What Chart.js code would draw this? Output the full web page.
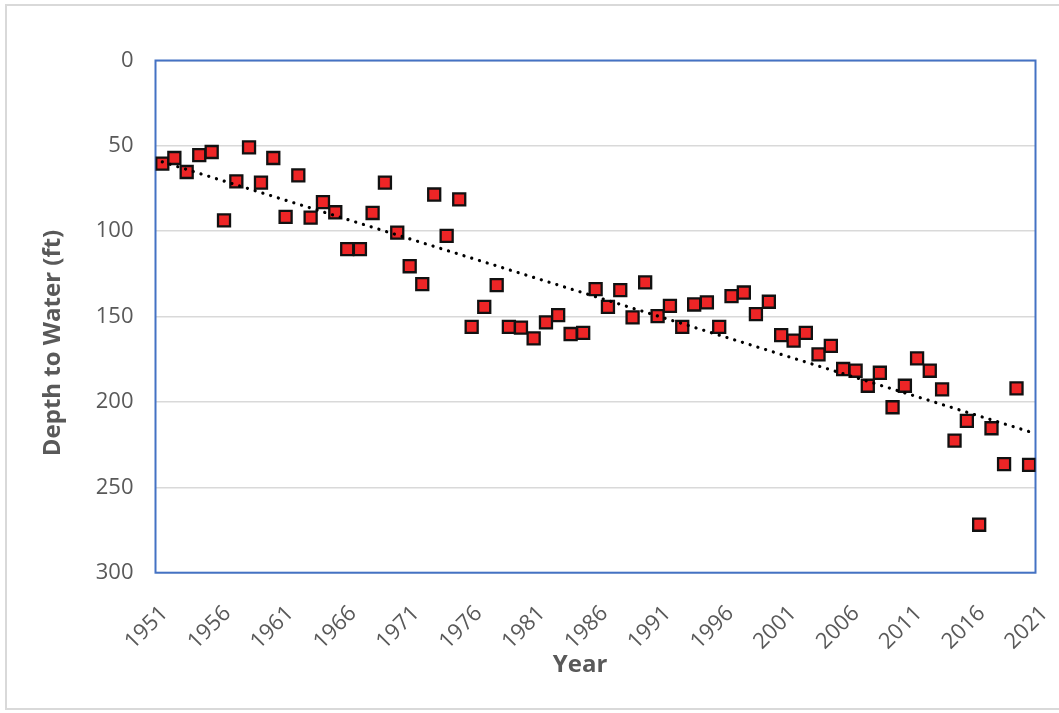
<!DOCTYPE html>
<html>
<head>
<meta charset="utf-8">
<script src="https://cdn.jsdelivr.net/npm/chart.js@4.4.1/dist/chart.umd.min.js"></script>
<style>
  body { margin: 0; background: #fff; overflow: hidden; }
  #wrap { position: relative; width: 1059px; height: 713px; }
  #frame { position: absolute; left: 5px; top: 4px; width: 1100px; height: 706px; border: 2px solid #d9d9d9; box-sizing: border-box; }
  #grafico { position: absolute; left: 0; top: 0; }
</style>
</head>
<body>
<div id="wrap">
  <div id="frame"></div>
  <canvas id="grafico" width="1059" height="713"></canvas>
</div>
<script>
const years = [
  1951.54, 1952.50, 1953.48, 1954.48, 1955.47, 1956.45, 1957.43, 1958.44, 1959.39, 1960.37,
  1961.35, 1962.36, 1963.34, 1964.32, 1965.30, 1966.25, 1967.26, 1968.27, 1969.25, 1970.23,
  1971.22, 1972.22, 1973.17, 1974.16, 1975.16, 1976.15, 1977.15, 1978.14, 1979.11, 1980.07,
  1981.08, 1982.06, 1983.03, 1984.02, 1985.02, 1986.01, 1986.99, 1987.97, 1988.95, 1989.95,
  1990.94, 1991.92, 1992.90, 1993.85, 1994.86, 1995.84, 1996.82, 1997.80, 1998.76, 1999.79,
  2000.77, 2001.76, 2002.73, 2003.74, 2004.72, 2005.70, 2006.69, 2007.66, 2008.62, 2009.63,
  2010.61, 2011.58, 2012.59, 2013.57, 2014.56, 2015.54, 2016.52, 2017.50, 2018.50, 2019.49,
  2020.49
];

// depth to water (ft)
const depths = [
  60.4, 57.1, 65.3, 55.4, 53.6, 93.6, 70.8, 50.9, 71.5, 57.1,
  91.6, 67.3, 92.0, 82.9, 88.9, 110.5, 110.5, 89.3, 71.5, 100.8,
  120.5, 131.0, 78.5, 102.7, 81.3, 156.0, 144.3, 131.6, 156.0, 156.5,
  162.8, 153.4, 149.1, 160.2, 159.5, 133.9, 144.3, 134.5, 150.5, 130.0,
  149.7, 143.7, 156.0, 142.9, 141.7, 156.0, 138.0, 135.9, 148.5, 141.3,
  160.8, 164.1, 159.5, 172.1, 167.1, 180.7, 181.7, 190.5, 182.9, 203.1,
  190.5, 174.5, 181.7, 192.6, 222.6, 211.1, 271.9, 215.4, 236.4, 192.0,
  236.8
];

const xTickYears = [1951, 1956, 1961, 1966, 1971, 1976, 1981, 1986, 1991, 1996, 2001, 2006, 2011, 2016, 2021];
const yTicks = [0, 50, 100, 150, 200, 250, 300];

const cinza = '#595959';
const fonte = '"Open Sans", Lato, sans-serif';

// linear trend (least squares) like the Excel trendline
function tendencia(xs, ys) {
    const n = xs.length;
    let sx = 0, sy = 0, sxx = 0, sxy = 0;
    for (let i = 0; i < n; i++) {
        sx += xs[i]; sy += ys[i];
        sxx += xs[i] * xs[i]; sxy += xs[i] * ys[i];
    }
    const b = (n * sxy - sx * sy) / (n * sxx - sx * sx);
    const a = (sy - b * sx) / n;
    const x0 = xs[0], x1 = xs[n - 1];
    return [{x: x0, y: a + b * x0}, {x: x1, y: a + b * x1}];
}

const pontos = years.map((y, i) => ({x: y, y: depths[i]}));

// blue frame round the plot area
const moldura = {
    id: 'moldura',
    beforeDatasetsDraw(chart) {
        const {ctx, chartArea: a} = chart;
        ctx.save();
        ctx.strokeStyle = '#4472C4';
        ctx.lineWidth = 2;
        ctx.strokeRect(a.left, a.top, a.right - a.left, a.bottom - a.top);
        ctx.restore();
    }
};

// axis titles
const titulos = {
    id: 'titulos',
    afterDraw(chart) {
        const ctx = chart.ctx;
        ctx.save();
        ctx.fillStyle = cinza;
        ctx.font = 'bold 24px ' + fonte;
        ctx.textAlign = 'center';
        ctx.textBaseline = 'middle';
        ctx.fillText('Year', 580, 665);
        ctx.translate(53, 343);
        ctx.rotate(-Math.PI / 2);
        ctx.fillText('Depth to Water (ft)', 0, 0);
        ctx.restore();
    }
};

new Chart(document.getElementById('grafico').getContext('2d'), {
    type: 'scatter',
    data: {
        datasets: [
            {
                label: 'Depth to Water',
                data: pontos,
                pointStyle: 'rect',
                pointRadius: 8.5,
                pointHoverRadius: 8.5,
                backgroundColor: '#EE2526',
                borderColor: '#111111',
                borderWidth: 2.3,
                order: 1
            },
            {
                type: 'line',
                label: 'Linear',
                data: tendencia(years, depths),
                borderColor: '#000',
                borderWidth: 3.2,
                borderDash: [0.1, 8],
                borderCapStyle: 'round',
                pointRadius: 0,
                fill: false,
                order: 0
            }
        ]
    },
    options: {
        responsive: false,
        animation: false,
        layout: {padding: {left: 0, top: 60.5, right: 23.5, bottom: 0}},
        plugins: {
            legend: {display: false},
            tooltip: {enabled: false}
        },
        scales: {
            x: {
                type: 'linear',
                min: 1951,
                max: 2021,
                afterBuildTicks: s => { s.ticks = xTickYears.map(v => ({value: v})); },
                afterFit: s => { s.height = 140.3; s.paddingLeft = 0; s.paddingRight = 0; },
                grid: {display: false, drawTicks: false},
                border: {display: false},
                ticks: {
                    color: cinza,
                    font: {family: fonte, size: 22},
                    maxRotation: 45,
                    minRotation: 45,
                    padding: 28,
                    labelOffset: 9,
                    autoSkip: false,
                    callback: v => String(v)
                }
            },
            y: {
                reverse: true,
                min: 0,
                max: 300,
                afterBuildTicks: s => { s.ticks = yTicks.map(v => ({value: v})); },
                afterFit: s => { s.width = 155.5; },
                grid: {color: '#d9d9d9', lineWidth: 1.5, drawTicks: false},
                border: {display: false},
                ticks: {
                    color: cinza,
                    font: {family: fonte, size: 22},
                    padding: 22,
                    callback: v => String(v)
                }
            }
        }
    },
    plugins: [moldura, titulos]
});
</script>
</body>
</html>
